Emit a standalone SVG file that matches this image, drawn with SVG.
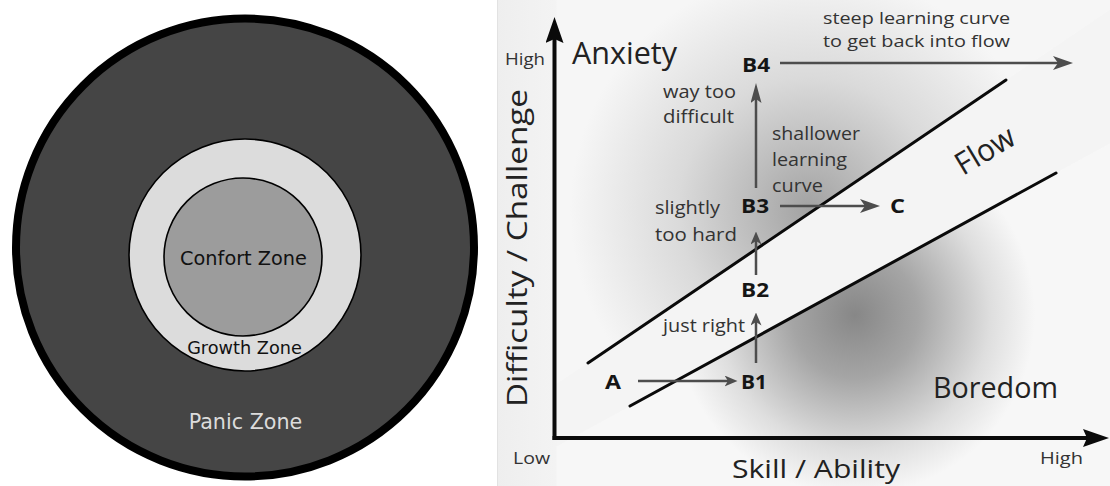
<svg xmlns="http://www.w3.org/2000/svg" width="1110" height="486" viewBox="0 0 1110 486">
  <style>
    .zone { font-family: "DejaVu Sans", sans-serif; text-anchor: middle; }
    .lbl { font-family: "Open Sans", "Liberation Sans", sans-serif; fill: #333; }
    .big { font-family: "Open Sans", "Liberation Sans", sans-serif; fill: #222; }
    .pt { font-family: "Open Sans", "Liberation Sans", sans-serif; font-weight: bold; fill: #151515; font-size: 20px; }
    .garrow { stroke: #4d4d4d; stroke-width: 2.5; fill: none; }
    .axis { stroke: #0a0a0a; stroke-width: 4; fill: none; }
    .band { stroke: #0a0a0a; stroke-width: 3; fill: none; stroke-linecap: round; }
  </style>
  <defs>
    <marker id="headG" markerUnits="userSpaceOnUse" viewBox="0 0 20 14" markerWidth="20" markerHeight="14" refX="5" refY="7" orient="auto">
      <path d="M0,0 L20,7 L0,14 L5,7 z" fill="#4d4d4d"/>
    </marker>
    <marker id="headV" markerUnits="userSpaceOnUse" viewBox="0 0 20 11" markerWidth="20" markerHeight="11" refX="4" refY="5.5" orient="auto">
      <path d="M0,0 L20,5.5 L0,11 L4,5.5 z" fill="#4d4d4d"/>
    </marker>
    <marker id="headS" markerUnits="userSpaceOnUse" viewBox="0 0 13 11" markerWidth="13" markerHeight="11" refX="3.5" refY="5.5" orient="auto">
      <path d="M0,0 L13,5.5 L0,11 L3.5,5.5 z" fill="#4d4d4d"/>
    </marker>
    <marker id="headA" markerUnits="userSpaceOnUse" viewBox="0 0 26 18" markerWidth="26" markerHeight="18" refX="4" refY="9" orient="auto">
      <path d="M0,0 L26,9 L0,18 L4,9 z" fill="#0a0a0a"/>
    </marker>
    <radialGradient id="anxGrad" gradientUnits="userSpaceOnUse" cx="810" cy="210" r="240">
      <stop offset="0" stop-color="#a2a2a2"/>
      <stop offset="0.25" stop-color="#bcbcbc"/>
      <stop offset="0.55" stop-color="#dadada"/>
      <stop offset="1" stop-color="#f6f6f6"/>
    </radialGradient>
    <radialGradient id="borGrad" gradientUnits="userSpaceOnUse" cx="855" cy="315" r="180">
      <stop offset="0" stop-color="#878787"/>
      <stop offset="0.35" stop-color="#a5a5a5"/>
      <stop offset="0.75" stop-color="#dedede"/>
      <stop offset="1" stop-color="#f7f7f7"/>
    </radialGradient>
    <linearGradient id="baseGrad" x1="0" y1="0" x2="1" y2="0">
      <stop offset="0" stop-color="#eeeeee"/>
      <stop offset="0.15" stop-color="#f6f6f6"/>
      <stop offset="1" stop-color="#fafafa"/>
    </linearGradient>
    <clipPath id="anxClip"><polygon points="556.5,0 556.5,384.3 1110,9.6 1110,0"/></clipPath>
    <clipPath id="borClip"><polygon points="556.5,446.2 1110,143.4 1110,486 556.5,486"/></clipPath>
  </defs>

  <rect x="0" y="0" width="1110" height="486" fill="#ffffff"/>

  <!-- Left: zones -->
  <g id="panic-zone">
    <circle cx="245" cy="247.5" r="229" fill="#454545" stroke="#000" stroke-width="8"/>
    <text class="zone" x="245.5" y="429" font-size="20.7" fill="#dcdcdc">Panic Zone</text>
  </g>
  <g id="growth-zone">
    <circle cx="245" cy="255" r="116" fill="#dcdcdc" stroke="#000" stroke-width="1.6"/>
    <text class="zone" x="244.5" y="354" font-size="17.7" fill="#111">Growth Zone</text>
  </g>
  <g id="comfort-zone">
    <circle cx="243" cy="257" r="79" fill="#9c9c9c" stroke="#000" stroke-width="1.6"/>
    <text class="zone" x="243.5" y="265" font-size="19.3" fill="#111">Confort Zone</text>
  </g>

  <!-- Right: flow chart background -->
  <g id="chart-background">
    <rect x="497" y="0" width="613" height="486" fill="url(#baseGrad)"/>
    <line x1="497.5" y1="0" x2="497.5" y2="486" stroke="#e2e2e2" stroke-width="1"/>
    <rect x="556" y="0" width="554" height="440" fill="url(#anxGrad)" clip-path="url(#anxClip)"/>
    <rect x="556" y="140" width="554" height="346" fill="url(#borGrad)" clip-path="url(#borClip)"/>
    <polygon points="556.5,384.3 1110,9.6 1110,143.4 556.5,446.2" fill="#f4f4f4"/>
  </g>

  <g id="flow-band">
    <line class="band" x1="588" y1="363" x2="1006" y2="80"/>
    <line class="band" x1="630" y1="406" x2="1056" y2="173"/>
    <text class="big" transform="translate(963,176) rotate(-31)" font-size="31" textLength="64" lengthAdjust="spacingAndGlyphs">Flow</text>
  </g>

  <g id="axes">
    <line class="axis" x1="554.5" y1="440" x2="554.5" y2="39" marker-end="url(#headA)"/>
    <line class="axis" x1="552.5" y1="438" x2="1087" y2="438" marker-end="url(#headA)"/>
    <text class="lbl" x="505" y="65" font-size="17" textLength="40" lengthAdjust="spacingAndGlyphs">High</text>
    <text class="lbl" x="513" y="464" font-size="17" textLength="37" lengthAdjust="spacingAndGlyphs">Low</text>
    <text class="lbl" x="1040" y="464" font-size="17" textLength="43" lengthAdjust="spacingAndGlyphs">High</text>
    <text class="big" x="732" y="478" font-size="26" textLength="168" lengthAdjust="spacingAndGlyphs">Skill / Ability</text>
    <text class="big" transform="translate(527,248) rotate(-90)" text-anchor="middle" font-size="28" textLength="318" lengthAdjust="spacingAndGlyphs">Difficulty / Challenge</text>
  </g>

  <g id="region-labels">
    <text class="big" x="572" y="64" font-size="31" textLength="105" lengthAdjust="spacingAndGlyphs">Anxiety</text>
    <text class="big" x="933" y="398" font-size="30" textLength="125" lengthAdjust="spacingAndGlyphs">Boredom</text>
  </g>

  <g id="node-A"><text class="pt" x="605" y="389" textLength="16" lengthAdjust="spacingAndGlyphs">A</text></g>
  <g id="node-B1"><text class="pt" x="741" y="389" textLength="26" lengthAdjust="spacingAndGlyphs">B1</text></g>
  <g id="node-B2"><text class="pt" x="741" y="297" textLength="28" lengthAdjust="spacingAndGlyphs">B2</text></g>
  <g id="node-B3"><text class="pt" x="741" y="213" textLength="28" lengthAdjust="spacingAndGlyphs">B3</text></g>
  <g id="node-B4"><text class="pt" x="742" y="72" textLength="28" lengthAdjust="spacingAndGlyphs">B4</text></g>
  <g id="node-C"><text class="pt" x="890" y="213" textLength="15" lengthAdjust="spacingAndGlyphs">C</text></g>

  <g id="connectors">
    <line class="garrow" x1="638" y1="381" x2="728" y2="381" marker-end="url(#headS)"/>
    <line class="garrow" stroke-width="2" x1="756" y1="363" x2="756" y2="322" marker-end="url(#headS)"/>
    <line class="garrow" stroke-width="2" x1="756" y1="275" x2="756" y2="241" marker-end="url(#headS)"/>
    <line class="garrow" stroke-width="2" x1="756" y1="188" x2="756" y2="99" marker-end="url(#headV)"/>
    <line class="garrow" x1="780" y1="206" x2="865" y2="206" marker-end="url(#headG)"/>
    <line class="garrow" x1="780" y1="63" x2="1058" y2="63" marker-end="url(#headG)"/>
  </g>

  <g id="connector-labels">
    <text class="lbl" x="823" y="24" font-size="17" textLength="187" lengthAdjust="spacingAndGlyphs">steep learning curve</text>
    <text class="lbl" x="823" y="47" font-size="17" textLength="187" lengthAdjust="spacingAndGlyphs">to get back into flow</text>
    <text class="lbl" x="663" y="98" font-size="18" textLength="73" lengthAdjust="spacingAndGlyphs">way too</text>
    <text class="lbl" x="663" y="123" font-size="18" textLength="71" lengthAdjust="spacingAndGlyphs">difficult</text>
    <text class="lbl" x="772" y="140" font-size="18" textLength="88" lengthAdjust="spacingAndGlyphs">shallower</text>
    <text class="lbl" x="772" y="166" font-size="18" textLength="75" lengthAdjust="spacingAndGlyphs">learning</text>
    <text class="lbl" x="772" y="192" font-size="18" textLength="51" lengthAdjust="spacingAndGlyphs">curve</text>
    <text class="lbl" x="655" y="214" font-size="18" textLength="65" lengthAdjust="spacingAndGlyphs">slightly</text>
    <text class="lbl" x="655" y="241" font-size="18" textLength="82" lengthAdjust="spacingAndGlyphs">too  hard</text>
    <text class="lbl" x="663" y="332" font-size="18" textLength="82" lengthAdjust="spacingAndGlyphs">just right</text>
  </g>
</svg>
